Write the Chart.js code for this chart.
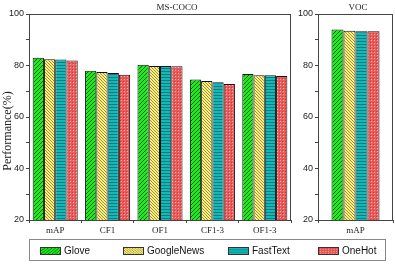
<!DOCTYPE html>
<html>
<head>
<meta charset="utf-8">
<script src="https://cdn.jsdelivr.net/npm/chart.js@4/dist/chart.umd.min.js"></script>
<style>
  html, body { margin: 0; padding: 0; background: #fff; }
  body { width: 395px; height: 264px; position: relative; overflow: hidden; }
  #cocoWrap { position: absolute; left: 0; top: 0; width: 295px; height: 240px; }
  #vocWrap { position: absolute; left: 295px; top: 0; width: 100px; height: 240px; }
  .ttl { position: absolute; top: 2px; font: 9px "Liberation Serif", serif; color: #222; transform: translateX(-50%); white-space: nowrap; }
  #legend { position: absolute; left: 29px; top: 239px; width: 357px; height: 22px; border: 1px solid #888; box-sizing: border-box; }
  .item { position: absolute; top: 6px; height: 9px; display: flex; align-items: center; font: 10px "Liberation Sans", Arial, sans-serif; color: #111; }
  .item canvas { width: 21px; height: 8px; margin-right: 3px; border: 1px solid #333; box-sizing: border-box; }
</style>
</head>
<body>
<div id="cocoWrap"><canvas id="chartCoco"></canvas></div>
<div id="vocWrap"><canvas id="chartVoc"></canvas></div>
<div class="ttl" style="left:177px">MS-COCO</div>
<div class="ttl" style="left:358px">VOC</div>
<div id="legend"></div>
<script>
// data
const COCO_LABELS = ['mAP', 'CF1', 'OF1', 'CF1-3', 'OF1-3'];
const VOC_LABELS = ['mAP'];
const SERIES = ['Glove', 'GoogleNews', 'FastText', 'OneHot'];
const GLOVE_COCO      = [83.0, 78.0, 80.3, 74.6, 76.7];
const GOOGLENEWS_COCO = [82.4, 77.5, 79.8, 74.0, 76.2];
const FASTTEXT_COCO   = [82.3, 77.1, 79.8, 73.5, 76.2];
const ONEHOT_COCO     = [81.9, 76.4, 79.7, 72.8, 75.9];
const GLOVE_VOC = [94.0];
const GOOGLENEWS_VOC = [93.5];
const FASTTEXT_VOC = [93.3];
const ONEHOT_VOC = [93.3];
const Y_MIN = 20, Y_MAX = 100;
const Y_TITLE = 'Performance(%)';

function makePattern(kind){
  const c = document.createElement('canvas');
  const ctx = c.getContext('2d');
  if(kind === 'glove'){
    c.width = 4; c.height = 4;
    ctx.fillStyle = '#19f019'; ctx.fillRect(0,0,4,4);
    ctx.strokeStyle = '#0a5a0a'; ctx.lineWidth = 1;
    ctx.beginPath(); ctx.moveTo(-1,5); ctx.lineTo(5,-1); ctx.moveTo(-1,1); ctx.lineTo(1,-1); ctx.moveTo(3,5); ctx.lineTo(5,3); ctx.stroke();
  } else if(kind === 'google'){
    c.width = 3; c.height = 3;
    ctx.fillStyle = '#fdf078'; ctx.fillRect(0,0,3,3);
    ctx.strokeStyle = '#6b6530'; ctx.lineWidth = 0.7;
    ctx.beginPath(); ctx.moveTo(-1,-1); ctx.lineTo(4,4); ctx.stroke();
  } else if(kind === 'fast'){
    c.width = 3; c.height = 3;
    ctx.fillStyle = '#14b8b8'; ctx.fillRect(0,0,3,3);
    ctx.fillStyle = '#0b7c7e'; ctx.fillRect(0,2,3,1);
  } else {
    c.width = 3; c.height = 3;
    ctx.fillStyle = '#ee5a5a'; ctx.fillRect(0,0,3,3);
    ctx.fillStyle = '#f7b3b0'; ctx.fillRect(1,1,1,1);
    ctx.fillStyle = '#c04040'; ctx.fillRect(0,0,1,1);
  }
  return c;
}
const PAT_SRC = [makePattern('glove'), makePattern('google'), makePattern('fast'), makePattern('one')];

function patternsFor(ctx){ return PAT_SRC.map(p => ctx.createPattern(p, 'repeat')); }

const boxPlugin = {
  id: 'box',
  afterDraw(chart){
    const a = chart.chartArea, ctx = chart.ctx;
    ctx.save();
    ctx.strokeStyle = '#444'; ctx.lineWidth = 1;
    ctx.strokeRect(Math.round(a.left)+0.5, Math.round(a.top)+0.5, Math.round(a.right-a.left)-1, Math.round(a.bottom-a.top));
    if(chart.canvas.id === 'chartCoco'){
      ctx.translate(8, 131);
      ctx.rotate(-Math.PI/2);
      ctx.fillStyle = '#222';
      ctx.font = '12px "Liberation Serif"';
      ctx.textAlign = 'center';
      ctx.textBaseline = 'middle';
      ctx.fillText(Y_TITLE, 0, 0);
    }
    ctx.restore();
  }
};

function build(id, labels, data, yWidth, catPct){
  const canvas = document.getElementById(id);
  const pats = patternsFor(canvas.getContext('2d'));
  return new Chart(canvas, {
    type: 'bar',
    data: {
      labels: labels,
      datasets: SERIES.map((s, i) => ({
        label: s, data: data[i],
        backgroundColor: pats[i], borderColor: '#111', borderWidth: 1, borderSkipped: 'bottom'
      }))
    },
    options: {
      responsive: true, maintainAspectRatio: false, animation: false,
      layout: { padding: { top: 14, right: id === 'chartVoc' ? 2 : 4, left: 0, bottom: 0 } },
      plugins: { legend: { display: false }, tooltip: { enabled: false } },
      datasets: { bar: { categoryPercentage: catPct, barPercentage: 1 } },
      scales: {
        x: {
          grid: { offset: true, drawOnChartArea: false, tickLength: 3, color: '#444' },
          border: { display: false },
          ticks: { color: '#222', font: { family: 'Liberation Serif', size: 9 }, padding: 2, maxRotation: 0 },
          afterFit(s){ s.height = 20; }
        },
        y: {
          min: Y_MIN, max: Y_MAX,
          grid: { drawOnChartArea: false, tickLength: 3, color: '#444' },
          border: { display: false },
          ticks: {
            stepSize: 10, color: '#222', padding: 2,
            font: { family: 'Liberation Sans', size: 9 },
            callback: v => (v % 20 === 0 ? v : '')
          },
          afterFit(s){ s.width = yWidth; }
        }
      }
    },
    plugins: [boxPlugin]
  });
}

build('chartCoco', COCO_LABELS, [GLOVE_COCO, GOOGLENEWS_COCO, FASTTEXT_COCO, ONEHOT_COCO], 29, 0.86);
build('chartVoc', VOC_LABELS, [GLOVE_VOC, GOOGLENEWS_VOC, FASTTEXT_VOC, ONEHOT_VOC], 23, 0.64);

// legend
const LEGEND_X = [10, 93, 198, 288];
const legend = document.getElementById('legend');
SERIES.forEach((s, i) => {
  const d = document.createElement('div');
  d.className = 'item';
  d.style.left = LEGEND_X[i] + 'px';
  const sw = document.createElement('canvas');
  sw.width = 21; sw.height = 8;
  const sctx = sw.getContext('2d');
  sctx.fillStyle = sctx.createPattern(PAT_SRC[i], 'repeat');
  sctx.fillRect(0, 0, 21, 8);
  d.appendChild(sw);
  const t = document.createElement('span');
  t.textContent = s;
  d.appendChild(t);
  legend.appendChild(d);
});
</script>
</body>
</html>
